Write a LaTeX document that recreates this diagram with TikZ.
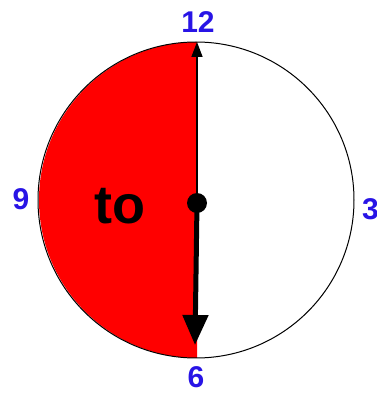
\documentclass[tikz,border=0pt]{standalone}
\usepackage{fontspec}
\setmainfont{Liberation Sans}
\usetikzlibrary{arrows.meta}
\definecolor{numblue}{RGB}{40,20,230}
\begin{document}
\begin{tikzpicture}[x=1pt,y=1pt,
  num/.style={text=numblue,font=\fontsize{30}{30}\selectfont\bfseries,inner sep=0pt},
  face/.style={draw=black,line width=1pt}]
\useasboundingbox (0,0) rectangle (377,394);
\coordinate (c) at (196,194);
\coordinate (top) at (197,352);
% red half
\fill[red] (top) arc[start angle=90,end angle=270,radius=158] -- cycle;
\draw[face] (c) circle[radius=158];
% hands
\node[circle,fill=black,minimum size=20pt,inner sep=0pt] (hub) at (197,191) {};
\draw[line width=1.6pt,-{Triangle[length=15pt,width=11pt]}] (hub.center) -- (top);
\coordinate (tip) at (195,49);
\draw[line width=5pt,-{Triangle[length=30pt,width=25pt]}] (hub.center) -- (tip);
% labels
\node[num] (n12) at (198,372) {12};
\node[num] (n6) at (196,17) {6};
\node[num] (n9) at (21,195) {9};
\node[num,anchor=west] (n3) at (362,185) {3};
\node[font=\fontsize{54}{54}\selectfont\bfseries,inner sep=0pt] (to) at (120,188) {to};
\end{tikzpicture}
\end{document}
